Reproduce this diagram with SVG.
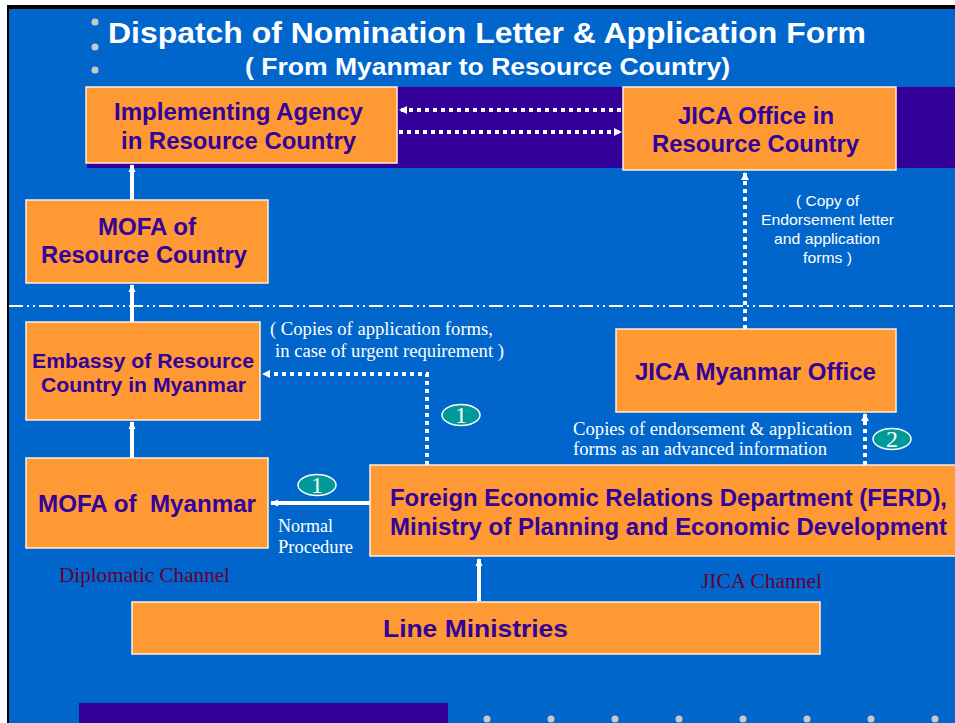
<svg xmlns="http://www.w3.org/2000/svg" width="955" height="723" viewBox="0 0 955 723">
<defs>
<style>
.box{fill:#FF9933;stroke:#FFEEDD;stroke-width:1.5}
.bt{font-family:"Liberation Sans",Arial,sans-serif;font-weight:bold;fill:#330099;font-size:23px}
.solid{stroke:#FFFFFF;stroke-width:4;fill:none}
.dot{stroke:#FFFFFF;stroke-width:4;fill:none;stroke-dasharray:4 4}
.note{font-family:"Liberation Serif","Times New Roman",serif;fill:#FFFFFF;font-size:18px}
.anote{font-family:"Liberation Sans",Arial,sans-serif;fill:#FFFFFF;font-size:15px}
.chan{font-family:"Liberation Serif","Times New Roman",serif;fill:#660033;font-size:21px}
.badge{fill:#009999;stroke:#FFFFFF;stroke-width:1.5}
.bn{font-family:"Liberation Serif","Times New Roman",serif;fill:#FFFFFF;font-size:24px;text-anchor:middle}
.gd{fill:#C8C8C8}
</style>
<marker id="ah" markerWidth="8" markerHeight="8" refX="7" refY="4" orient="auto" markerUnits="userSpaceOnUse">
<path d="M0,0 L8,4 L0,8 Z" fill="#FFFFFF"/>
</marker>
<marker id="ahs" markerWidth="8" markerHeight="8" refX="7" refY="4" orient="auto" markerUnits="userSpaceOnUse">
<path d="M0,0.5 L8,4 L0,7.5 Z" fill="#FFFFFF"/>
</marker>
</defs>
<rect x="0" y="0" width="955" height="723" fill="#FFFFFF"/>
<rect x="7" y="5" width="948" height="718" fill="#000000"/>
<rect x="9" y="9" width="946" height="714" fill="#0066CC"/>
<rect x="87" y="87" width="868" height="81" fill="#330099"/>
<rect x="79" y="703" width="369" height="20" fill="#330099"/>
<g id="decor">
<circle class="gd" cx="95" cy="22" r="3.5"/>
<circle class="gd" cx="95" cy="47" r="3.5"/>
<circle class="gd" cx="95" cy="70" r="3.5"/>
<circle class="gd" cx="487" cy="719" r="3.5"/>
<circle class="gd" cx="551" cy="719" r="3.5"/>
<circle class="gd" cx="615" cy="719" r="3.5"/>
<circle class="gd" cx="679" cy="719" r="3.5"/>
<circle class="gd" cx="743" cy="719" r="3.5"/>
<circle class="gd" cx="807" cy="719" r="3.5"/>
<circle class="gd" cx="871" cy="719" r="3.5"/>
<circle class="gd" cx="935" cy="719" r="3.5"/>
<line x1="9" y1="306" x2="955" y2="306" stroke="#FFFFFF" stroke-width="2" stroke-dasharray="14 4 2 4 2 4"/>
</g>
<g id="title" font-family="Liberation Sans,Arial,sans-serif" font-weight="bold" fill="#FFFFFF">
<text x="108" y="43" font-size="29" textLength="758" lengthAdjust="spacingAndGlyphs">Dispatch of Nomination Letter &amp; Application Form</text>
<text x="245" y="75" font-size="23" textLength="485" lengthAdjust="spacingAndGlyphs">( From Myanmar to Resource Country)</text>
</g>
<g id="connectors">
<line class="dot" x1="621" y1="110" x2="400" y2="110" marker-end="url(#ah)"/>
<line class="dot" x1="399" y1="132" x2="621" y2="132" marker-end="url(#ah)"/>
<line class="solid" x1="132" y1="200" x2="132" y2="165" marker-end="url(#ahs)"/>
<line class="solid" x1="132" y1="322" x2="132" y2="285" marker-end="url(#ahs)"/>
<line class="solid" x1="132" y1="458" x2="132" y2="422" marker-end="url(#ahs)"/>
<line class="solid" x1="370" y1="503" x2="271" y2="503" marker-end="url(#ahs)"/>
<line class="solid" x1="479" y1="601" x2="479" y2="559" marker-end="url(#ahs)"/>
<polyline class="dot" points="427,465 427,374 263,374" marker-end="url(#ah)"/>
<line class="dot" x1="745" y1="329" x2="745" y2="173" marker-end="url(#ah)"/>
<line class="dot" x1="865" y1="465" x2="865" y2="414" marker-end="url(#ah)"/>
</g>
<g id="implementing-agency">
<rect class="box" x="86" y="87" width="311" height="76"/>
<text class="bt" x="114" y="120" textLength="249" lengthAdjust="spacingAndGlyphs">Implementing Agency</text>
<text class="bt" x="121" y="149" textLength="235" lengthAdjust="spacingAndGlyphs">in Resource Country</text>
</g>
<g id="jica-office-rc">
<rect class="box" x="623" y="87" width="273" height="83"/>
<text class="bt" x="678" y="124" textLength="156" lengthAdjust="spacingAndGlyphs">JICA Office in</text>
<text class="bt" x="652" y="152" textLength="207" lengthAdjust="spacingAndGlyphs">Resource Country</text>
</g>
<g id="mofa-rc">
<rect class="box" x="26" y="200" width="242" height="83"/>
<text class="bt" x="98" y="235" textLength="98" lengthAdjust="spacingAndGlyphs">MOFA of</text>
<text class="bt" x="41" y="263" textLength="206" lengthAdjust="spacingAndGlyphs">Resource Country</text>
</g>
<g id="embassy">
<rect class="box" x="26" y="322" width="234" height="98"/>
<text class="bt" x="32" y="368" style="font-size:20.5px" textLength="222" lengthAdjust="spacingAndGlyphs">Embassy of Resource</text>
<text class="bt" x="41" y="392" style="font-size:20.5px" textLength="205" lengthAdjust="spacingAndGlyphs">Country in Myanmar</text>
</g>
<g id="mofa-myanmar">
<rect class="box" x="26" y="458" width="242" height="90"/>
<text class="bt" x="38" y="512" textLength="218" lengthAdjust="spacingAndGlyphs" xml:space="preserve">MOFA of  Myanmar</text>
</g>
<g id="jica-myanmar">
<rect class="box" x="616" y="329" width="280" height="83"/>
<text class="bt" x="635" y="380" textLength="241" lengthAdjust="spacingAndGlyphs">JICA Myanmar Office</text>
</g>
<g id="ferd">
<rect class="box" x="370" y="465" width="590" height="91"/>
<text class="bt" x="390" y="506" textLength="557" lengthAdjust="spacingAndGlyphs">Foreign Economic Relations Department (FERD),</text>
<text class="bt" x="390" y="535" textLength="557" lengthAdjust="spacingAndGlyphs">Ministry of Planning and Economic Development</text>
</g>
<g id="line-ministries">
<rect class="box" x="132" y="602" width="688" height="52"/>
<text class="bt" x="383" y="637" style="font-size:24px" textLength="185" lengthAdjust="spacingAndGlyphs">Line Ministries</text>
</g>
<g id="labels">
<text class="note" x="270" y="335" textLength="223" lengthAdjust="spacingAndGlyphs">( Copies of application forms,</text>
<text class="note" x="275" y="357" textLength="229" lengthAdjust="spacingAndGlyphs">in case of urgent requirement )</text>
<text class="note" x="278" y="532" textLength="55" lengthAdjust="spacingAndGlyphs">Normal</text>
<text class="note" x="278" y="553" textLength="75" lengthAdjust="spacingAndGlyphs">Procedure</text>
<text class="note" x="573" y="435" textLength="279" lengthAdjust="spacingAndGlyphs">Copies of endorsement &amp; application</text>
<text class="note" x="573" y="455" textLength="254" lengthAdjust="spacingAndGlyphs">forms as an advanced information</text>
<text class="anote" x="796" y="206" textLength="63" lengthAdjust="spacingAndGlyphs">( Copy of</text>
<text class="anote" x="761" y="225" textLength="133" lengthAdjust="spacingAndGlyphs">Endorsement letter</text>
<text class="anote" x="774" y="244" textLength="106" lengthAdjust="spacingAndGlyphs">and application</text>
<text class="anote" x="803" y="263" textLength="49" lengthAdjust="spacingAndGlyphs">forms )</text>
<text class="chan" x="59" y="582" textLength="171" lengthAdjust="spacingAndGlyphs">Diplomatic Channel</text>
<text class="chan" x="701" y="588" textLength="121" lengthAdjust="spacingAndGlyphs">JICA Channel</text>
</g>
<g id="badges">
<ellipse class="badge" cx="317" cy="485" rx="19" ry="10.5"/>
<text class="bn" x="317" y="493">1</text>
<ellipse class="badge" cx="461" cy="415" rx="19" ry="10.5"/>
<text class="bn" x="461" y="423">1</text>
<ellipse class="badge" cx="892" cy="439" rx="19" ry="10.5"/>
<text class="bn" x="892" y="447">2</text>
</g>
</svg>
